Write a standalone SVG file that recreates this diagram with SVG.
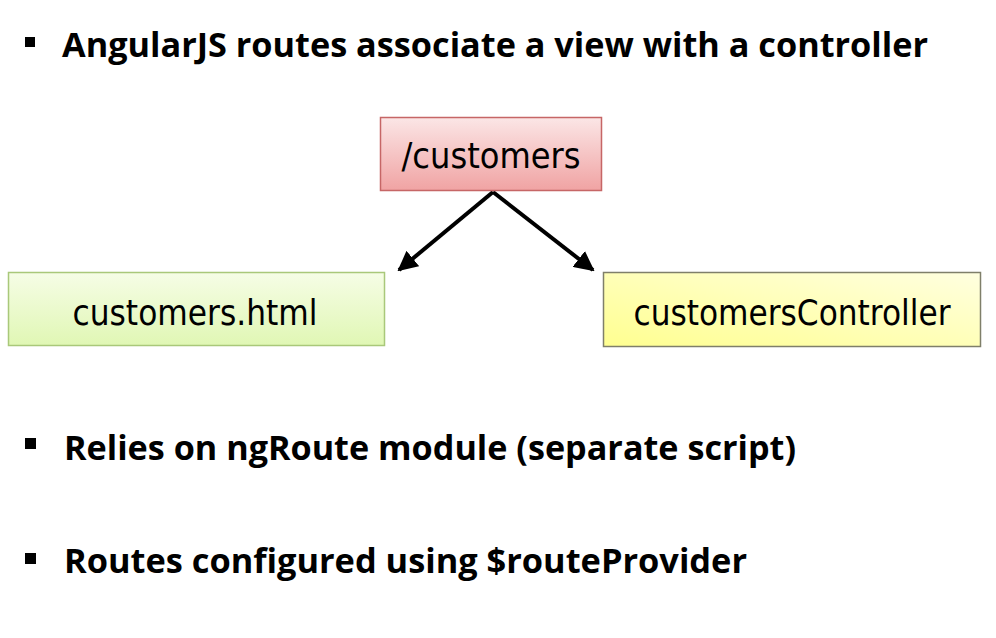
<svg xmlns="http://www.w3.org/2000/svg" width="996" height="638" viewBox="0 0 996 638">
<style>
.bul{font-family:"Open Sans","Liberation Sans",sans-serif;font-weight:bold;font-size:34px;fill:#000}
.box{font-family:"DejaVu Sans","Liberation Sans",sans-serif;font-size:35px;fill:#000;text-anchor:middle}
.conn{stroke:#000;stroke-width:4;fill:none}
</style>
<defs>
<linearGradient id="gRed" x1="0" y1="0" x2="0" y2="1">
<stop offset="0" stop-color="#fbe6e6"/><stop offset="1" stop-color="#f0a3a3"/>
</linearGradient>
<linearGradient id="gGreen" x1="0" y1="0" x2="0" y2="1">
<stop offset="0" stop-color="#f6fde6"/><stop offset="1" stop-color="#e0f7b4"/>
</linearGradient>
<linearGradient id="gYellow" x1="1" y1="0" x2="0" y2="1">
<stop offset="0" stop-color="#ffffe0"/><stop offset="1" stop-color="#ffff90"/>
</linearGradient>
<marker id="arr" viewBox="0 0 10 10" refX="9" refY="5" markerWidth="5" markerHeight="5" orient="auto" markerUnits="strokeWidth">
<path d="M0,0 L10,5 L0,10 z" fill="#000"/>
</marker>
</defs>
<rect width="996" height="638" fill="#fff"/>
<g id="bullets">
<rect x="25" y="37" width="10" height="10" fill="#000"/>
<text class="bul" x="62" y="57" textLength="866" lengthAdjust="spacingAndGlyphs">AngularJS routes associate a view with a controller</text>
<rect x="25" y="438" width="11" height="11" fill="#000"/>
<text class="bul" x="64" y="460" textLength="732" lengthAdjust="spacingAndGlyphs">Relies on ngRoute module (separate script)</text>
<rect x="25" y="553" width="11" height="11" fill="#000"/>
<text class="bul" x="64" y="573" textLength="683" lengthAdjust="spacingAndGlyphs">Routes configured using $routeProvider</text>
</g>
<g id="connectors">
<line class="conn" x1="493" y1="192" x2="399" y2="270" marker-end="url(#arr)"/>
<line class="conn" x1="493" y1="192" x2="593" y2="270" marker-end="url(#arr)"/>
</g>
<g id="node-route">
<rect x="380.5" y="117.5" width="221" height="73" fill="url(#gRed)" stroke="#c66666" stroke-width="1.5"/>
<text class="box" x="491" y="168" textLength="179" lengthAdjust="spacingAndGlyphs">/customers</text>
</g>
<g id="node-view">
<rect x="8.5" y="272.5" width="376" height="73" fill="url(#gGreen)" stroke="#a9c87a" stroke-width="1.5"/>
<text class="box" x="195" y="325" textLength="245" lengthAdjust="spacingAndGlyphs">customers.html</text>
</g>
<g id="node-controller">
<rect x="603.5" y="272.5" width="377" height="74" fill="url(#gYellow)" stroke="#7f7f6a" stroke-width="1.5"/>
<text class="box" x="792" y="325" textLength="317" lengthAdjust="spacingAndGlyphs">customersController</text>
</g>
</svg>
